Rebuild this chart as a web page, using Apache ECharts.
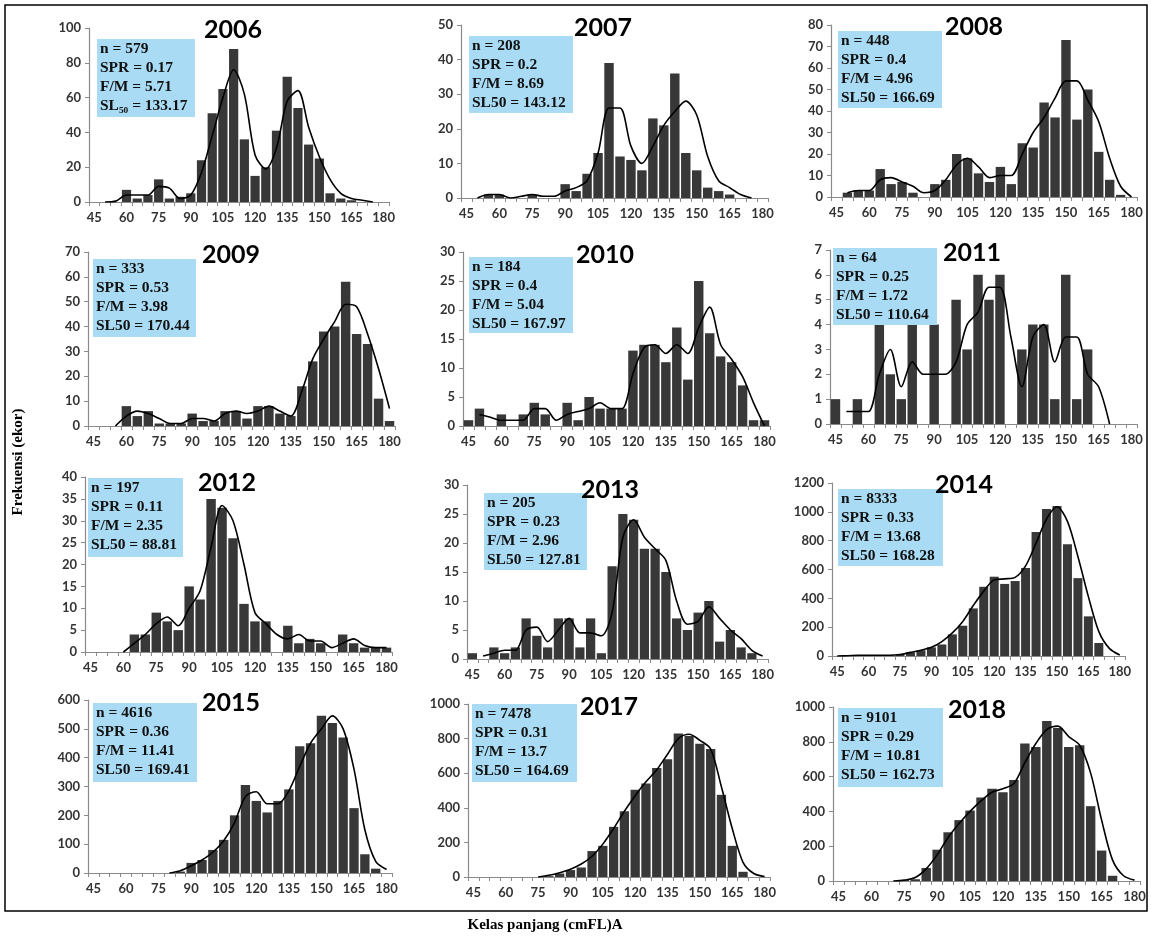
<!DOCTYPE html>
<html><head><meta charset="utf-8">
<script src="https://cdn.jsdelivr.net/npm/echarts@6/dist/echarts.min.js"></script>
<style>html,body{margin:0;padding:0;background:#fff}#c{width:1152px;height:936px}</style>
</head><body><div id="c"></div>
<script>
// ---------- DATA ----------
const categories = ['45','50','55','60','65','70','75','80','85','90','95','100','105','110','115','120','125','130','135','140','145','150','155','160','165','170','175','180'];
const years = ['2006','2007','2008','2009','2010','2011','2012','2013','2014','2015','2017','2018'];

const bars2006 = [0,0,0,7,2,4,13,2,3,5,24,51,65,88,36,15,20,41,72,54,33,25,5,2,1,0,0,0];
const line2006 = [null,0,0.5,4,4,4,9,8,2,4,17,38,60,76,62,27,19,31,58,64,43,26,13,5,2,1,0,null];
const bars2007 = [0,0,1,1,0,0,1,0,0,4,2,7,13,39,12,11,8,23,21,36,13,8,3,2,1,0,0,0];
const line2007 = [null,0,1,1,0,0.5,1,0.5,0.5,2,3,5,13,26,26,15,10,15,21,25,28,24,12,5,3,1,0,null];
const bars2008 = [0,2,3,3,13,6,7,2,0,6,8,20,18,11,7,14,6,25,23,44,37,73,36,50,21,8,1,0];
const line2008 = [null,2,3,3,8,9,7,5,2,3,8,15,18,14,9,10,10,20,30,37,46,54,54,45,35,18,5,0];
const bars2009 = [0,0,0,8,4,6,1,1,1,5,2,2,6,6,3,8,8,5,4,16,26,38,40,58,37,33,11,2];
const line2009 = [null,null,0,4,6,5,3,1,1,3,3,2,5,6,5,6,8,6,4,14,27,35,42,49,48,37,23,7];
const bars2010 = [1,3,0,2,0,2,4,2,0,4,1,5,3,3,3,13,14,14,11,17,8,25,16,12,11,7,1,1];
const line2010 = [null,2,1.5,1,1,1,3,3,1,2,2.5,3,4,3,3,9,13.5,14,12.5,14,12.5,17,20.5,14,11.5,8.5,4,0];
const bars2011 = [1,0,1,0,4,2,1,4,0,4,0,5,3,6,5,6,0,3,4,4,1,6,1,3,0,0,0,0];
const line2011 = [null,0.5,0.5,0.5,2,3,1.5,2.5,2,2,2,2.5,4,4.5,5.5,5.5,3.5,1.5,3.5,4,2.5,3.5,3.5,2,1.5,0,null,null];
const bars2012 = [0,0,0,0,4,4,9,7,5,15,12,35,33,26,11,7,7,0,6,2,3,2,0,4,2,1,1,1];
const line2012 = [null,null,null,0,2,4,6.5,8,6,10,14,24,33.5,30,20,9,6.5,4,3,4,2.5,2.5,1,2,3,1.5,1,1];
const bars2013 = [1,0,2,1,2,7,4,2,7,7,2,7,1,16,25,24,19,19,15,7,5,8,10,3,5,2,1,0];
const line2013 = [null,0.5,1,1.5,1.5,5,5.5,3,5,7,4.5,4.5,4,8,21,24,21,19,17,10,6,6.5,9,7,5,3.5,1.5,0.5];
const bars2014 = [0,1,2,3,3,5,10,25,40,60,80,150,210,330,480,550,500,520,610,860,1020,1040,775,540,275,90,0,0];
const line2014 = [0,2,5,5,5,5,10,25,40,60,100,160,240,350,450,528,535,545,625,783,950,1035,934,690,412,169,53,7];
const bars2015 = [0,0,0,0,0,0,0,0,5,35,45,80,115,200,305,250,210,250,290,440,450,545,520,470,225,65,15,0];
const line2015 = [null,null,null,null,null,null,null,0,8,25,45,72,112,175,265,282,240,240,285,370,450,500,545,500,360,150,40,12];
const bars2017 = [0,0,0,0,0,0,0,5,20,40,55,150,180,290,380,505,540,630,680,830,815,770,740,475,180,30,0,0];
const line2017 = [null,null,null,null,null,null,0,10,25,45,75,120,190,280,380,470,550,620,710,800,825,790,740,520,280,85,20,3];
const bars2018 = [0,0,0,0,0,0,5,10,75,180,280,350,405,480,530,510,580,790,770,920,880,770,780,430,175,30,0,0];
const line2018 = [null,null,null,null,null,0,5,20,70,150,250,330,400,460,510,530,560,680,790,870,890,830,780,620,350,120,30,5];

const yMax  = [100,50,80,70,30,7,40,30,1200,600,1000,1000];
const yStep = [20,10,10,10,5,1,5,5,200,100,200,200];

const statN   = ['579','208','448','333','184','64','197','205','8333','4616','7478','9101'];
const statSPR = ['0.17','0.2','0.4','0.53','0.4','0.25','0.11','0.23','0.33','0.36','0.31','0.29'];
const statFM  = ['5.71','8.69','4.96','3.98','5.04','1.72','2.35','2.96','13.68','11.41','13.7','10.81'];
const statSL  = ['133.17','143.12','166.69','170.44','167.97','110.64','88.81','127.81','168.28','169.41','164.69','162.73'];

const allBars  = [bars2006,bars2007,bars2008,bars2009,bars2010,bars2011,bars2012,bars2013,bars2014,bars2015,bars2017,bars2018];
const allLines = [line2006,line2007,line2008,line2009,line2010,line2011,line2012,line2013,line2014,line2015,line2017,line2018];

// ---------- LAYOUT (style only) ----------
const gridPos = [
  [89,28,300,174],[461,25,307,173],[831,25,306,172],
  [88,252,307,174],[463,252,307,174],[830,250,307,174],
  [85,477,307,175],[467,485,301,174],[832,483,293,173],
  [88,700,304,173],[468,704,302,173],[833,707,307,174]
];
const boxPos = [
  [97,39,98,78],[469,36,104,77],[838,31,104,77],
  [93,259,103,78],[469,257,104,76],[833,248,104,77],
  [88,478,95,79],[484,493,103,77],[838,489,105,77],
  [93,703,104,79],[472,704,105,78],[838,708,105,79]
];
const titlePos = [
  [233,30],[603,28],[974,27],
  [231,255],[605,255],[972,253],
  [227,483],[610,490],[964,485],
  [231,703],[609,707],[977,710]
];

const grids=[], xAxes=[], yAxes=[], series=[], graphics=[];
const axisCol = '#8a8a8a';
const labFont = {fontFamily:'Lato', fontSize:13, fontWeight:'bold', color:'#333'};

years.forEach((yr,i)=>{
  const g = gridPos[i];
  grids.push({left:g[0], top:g[1], width:g[2], height:g[3], containLabel:false});
  xAxes.push({
    type:'category', gridIndex:i, data:categories, boundaryGap:true,
    axisLine:{show:true, lineStyle:{color:axisCol, width:1.2}},
    axisTick:{show:true, interval:0, length:4, lineStyle:{color:axisCol}},
    axisLabel:Object.assign({interval:2, margin:9}, labFont),
    splitLine:{show:false}
  });
  yAxes.push({
    type:'value', gridIndex:i, min:0, max:yMax[i], interval:yStep[i],
    axisLine:{show:true, lineStyle:{color:axisCol, width:1.2}},
    axisTick:{show:true, length:4, lineStyle:{color:axisCol}},
    axisLabel:Object.assign({margin:8, formatter:v=>String(v)}, labFont),
    splitLine:{show:false}
  });
  series.push({
    type:'bar', xAxisIndex:i, yAxisIndex:i, data:allBars[i],
    barCategoryGap:'14%', itemStyle:{color:'#383838'}, silent:true, z:2
  });
  series.push({
    type:'line', xAxisIndex:i, yAxisIndex:i, data:allLines[i],
    smooth:0.3, showSymbol:false, connectNulls:false,
    lineStyle:{color:'#000', width:1.6}, silent:true, z:3
  });
  const b = boxPos[i];
  graphics.push({type:'rect', z:10, shape:{x:b[0], y:b[1], width:b[2], height:b[3]}, style:{fill:'#a9dbf4'}});
  const slLabel = (i===0) ? 'SL\u2085\u2080' : 'SL50';
  graphics.push({type:'text', z:11, style:{
    x:b[0]+3, y:b[1]+1,
    text:'n = '+statN[i]+'\nSPR = '+statSPR[i]+'\nF/M = '+statFM[i]+'\n'+slLabel+' = '+statSL[i],
    font:'bold 15.5px "Liberation Serif"', lineHeight:18.8, fill:'#111',
    textVerticalAlign:'top'
  }});
  const t = titlePos[i];
  graphics.push({type:'text', z:12, style:{
    x:t[0], y:t[1], text:yr, font:'bold 25px Lato', fill:'#000',
    textAlign:'center', textVerticalAlign:'middle'
  }});
});

graphics.push({type:'rect', z:0, shape:{x:5,y:5,width:1142,height:906}, style:{fill:'none', stroke:'#000', lineWidth:1.5}});
graphics.push({type:'text', z:12, rotation:Math.PI/2, x:18, y:462, style:{
  x:0, y:0, text:'Frekuensi (ekor)', font:'bold 15px "Liberation Serif"', fill:'#000',
  textAlign:'center', textVerticalAlign:'middle'
}});
graphics.push({type:'text', z:12, style:{
  x:545, y:925, text:'Kelas panjang (cmFL)A', font:'bold 15px "Liberation Serif"', fill:'#000',
  textAlign:'center', textVerticalAlign:'middle'
}});

const chart = echarts.init(document.getElementById('c'), null, {renderer:'canvas'});
chart.setOption({
  animation:false,
  backgroundColor:'#fff',
  grid:grids, xAxis:xAxes, yAxis:yAxes, series:series, graphic:graphics
});
</script></body></html>
